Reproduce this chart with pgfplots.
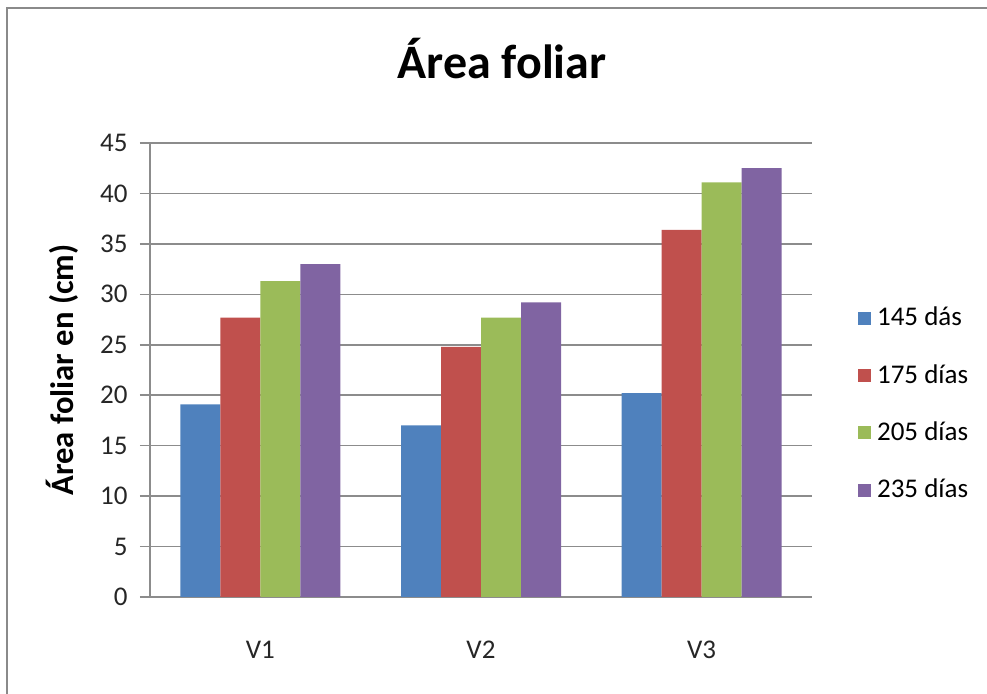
\documentclass[border=0pt]{standalone}
\usepackage{fontspec}
\setmainfont{Carlito}
\usepackage{pgfplots}
\pgfplotsset{compat=1.18}

\definecolor{serA}{HTML}{4F81BD}
\definecolor{serB}{HTML}{C0504D}
\definecolor{serC}{HTML}{9BBB59}
\definecolor{serD}{HTML}{8064A2}
\definecolor{gridgray}{HTML}{8C8C8C}
\definecolor{framegray}{HTML}{8A8A8A}

\begin{document}
\begin{tikzpicture}
% page: 987 x 694 units at 0.5pt each
\useasboundingbox (0,0) rectangle (493.5pt,347pt);
% chart frame: left and top edges
\draw[framegray, line width=1.3pt] (3.5pt,0pt) -- (3.5pt,343pt) -- (493.5pt,343pt);

\begin{axis}[
  at={(75pt,48.5pt)}, anchor=south west,
  scale only axis,
  width=331pt, height=227pt,
  ybar=0pt, bar width=20pt,
  xmin=-0.5, xmax=2.5,
  ymin=0, ymax=45,
  xtick={0,1,2},
  xticklabels={V1,V2,V3},
  ytick={0,5,...,45},
  axis x line*=bottom,
  axis y line*=left,
  axis line style={gridgray, line width=0.8pt, -},
  ymajorgrids,
  grid style={gridgray, line width=0.8pt},
  tick align=outside,
  major tick length=5pt,
  ytick style={gridgray, line width=0.8pt},
  xtick style={draw=none},
  /pgf/number format/assume math mode=true,
  tick label style={font=\fontsize{13.5}{16}\selectfont, text=black!85},
  yticklabel style={anchor=east, inner sep=0pt, xshift=-6pt},
  xticklabel style={anchor=north, inner sep=0pt, yshift=-17pt},
  title={Área foliar},
  title style={font=\bfseries\fontsize{24}{28}\selectfont,
    at={(axis description cs:0.5317,1.1167)}, anchor=base},
  ylabel={Área foliar en (cm)},
  every axis y label/.style={at={(axis description cs:-0.133,0.5)},
    rotate=90, anchor=center, font=\bfseries\fontsize{16.3}{19}\selectfont},
  legend style={at={(axis description cs:1.06,0.425)}, anchor=west,
    draw=none, fill=none, row sep=17.8pt,
    font=\fontsize{13.5}{16}\selectfont,
    nodes={inner xsep=3pt, inner ysep=0pt}},
  legend cell align=left,
  legend image code/.code={\fill[#1] (0pt,-3.25pt) rectangle (6.5pt,3.25pt);},
]
\addplot[fill=serA, draw=none] coordinates {(0,19.1) (1,17.0) (2,20.2)};
\addplot[fill=serB, draw=none] coordinates {(0,27.7) (1,24.8) (2,36.4)};
\addplot[fill=serC, draw=none] coordinates {(0,31.3) (1,27.7) (2,41.1)};
\addplot[fill=serD, draw=none] coordinates {(0,33.0) (1,29.2) (2,42.5)};
\legend{145 dás, 175 días, 205 días, 235 días}
\end{axis}
\end{tikzpicture}
\end{document}
